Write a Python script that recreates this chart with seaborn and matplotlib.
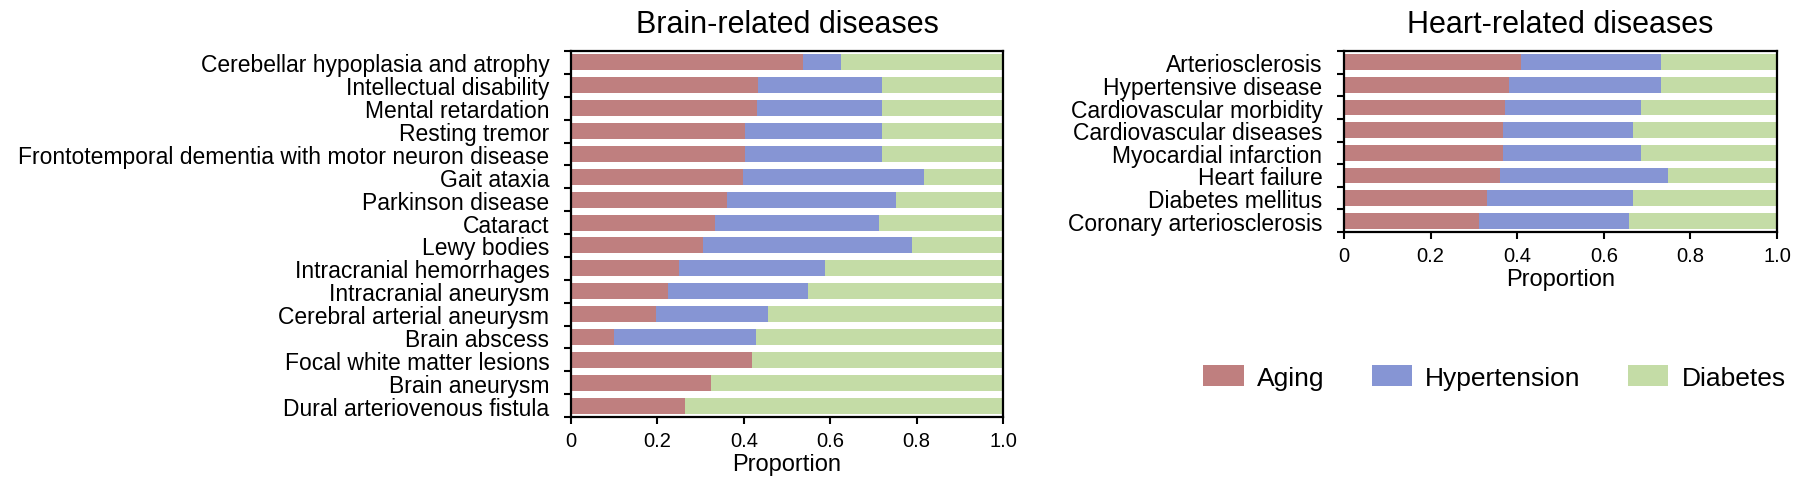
import numpy as np
import pandas as pd
import matplotlib
matplotlib.use("Agg")
import matplotlib.pyplot as plt
from matplotlib.patches import Patch
import seaborn as sns

# ---------------- data ----------------
brain_categories = [
    "Cerebellar hypoplasia and atrophy",
    "Intellectual disability",
    "Mental retardation",
    "Resting tremor",
    "Frontotemporal dementia with motor neuron disease",
    "Gait ataxia",
    "Parkinson disease",
    "Cataract",
    "Lewy bodies",
    "Intracranial hemorrhages",
    "Intracranial aneurysm",
    "Cerebral arterial aneurysm",
    "Brain abscess",
    "Focal white matter lesions",
    "Brain aneurysm",
    "Dural arteriovenous fistula",
]
brain_aging = [0.538, 0.433, 0.430, 0.402, 0.402, 0.398, 0.361, 0.334,
               0.306, 0.251, 0.224, 0.197, 0.100, 0.420, 0.324, 0.265]
brain_hypertension = [0.087, 0.288, 0.291, 0.319, 0.319, 0.418, 0.392, 0.379,
                      0.483, 0.337, 0.324, 0.259, 0.329, 0.0, 0.0, 0.0]
brain_diabetes = [0.375, 0.279, 0.279, 0.279, 0.279, 0.184, 0.247, 0.287,
                  0.211, 0.412, 0.452, 0.544, 0.571, 0.580, 0.676, 0.735]

heart_categories = [
    "Arteriosclerosis",
    "Hypertensive disease",
    "Cardiovascular morbidity",
    "Cardiovascular diseases",
    "Myocardial infarction",
    "Heart failure",
    "Diabetes mellitus",
    "Coronary arteriosclerosis",
]
heart_aging = [0.409, 0.381, 0.371, 0.367, 0.367, 0.361, 0.331, 0.311]
heart_hypertension = [0.322, 0.350, 0.315, 0.300, 0.319, 0.388, 0.336, 0.347]
heart_diabetes = [0.269, 0.269, 0.314, 0.333, 0.314, 0.251, 0.333, 0.342]

series_names = ["Aging", "Hypertension", "Diabetes"]
x_ticks = [0, 0.2, 0.4, 0.6, 0.8, 1.0]
x_ticklabels = ["0", "0.2", "0.4", "0.6", "0.8", "1.0"]
titles = ["Brain-related diseases", "Heart-related diseases"]
x_label = "Proportion"

colors = {"Aging": "#BF7F7F", "Hypertension": "#8695D4", "Diabetes": "#C4DCA6"}

# ---------------- style ----------------
sns.set_theme(style="white")
plt.rcParams["font.family"] = ["Liberation Sans", "DejaVu Sans"]
plt.rcParams["text.color"] = "black"
plt.rcParams["axes.labelcolor"] = "black"
plt.rcParams["xtick.color"] = "black"
plt.rcParams["ytick.color"] = "black"

W, H = 1800, 485
fig = plt.figure(figsize=(W / 100, H / 100), dpi=100)


def px_axes(x0, y0, x1, y1):
    return fig.add_axes([x0 / W, 1 - y1 / H, (x1 - x0) / W, (y1 - y0) / H])


def stacked(ax, cats, aging, hyper, diab, title):
    df = pd.DataFrame({"cat": cats, "Aging": aging,
                       "Hypertension": hyper, "Diabetes": diab})
    df["c1"] = df["Aging"]
    df["c2"] = df["Aging"] + df["Hypertension"]
    df["c3"] = df["c2"] + df["Diabetes"]
    for col, name in [("c3", "Diabetes"), ("c2", "Hypertension"), ("c1", "Aging")]:
        sns.barplot(data=df, x=col, y="cat", orient="h", order=cats,
                    color=colors[name], saturation=1, width=0.7,
                    errorbar=None, linewidth=0, ax=ax)
    n = len(cats)
    ax.set_xlim(0, 1)
    ax.set_ylim(n - 0.5, -0.5)
    ax.set_xticks(x_ticks)
    ax.set_xticklabels(x_ticklabels, fontsize=14.5)
    ax.set_yticks(range(n))
    ax.set_yticklabels(cats, fontsize=16.5)
    ax.set_yticks(np.arange(-0.5, n, 1.0), minor=True)
    ax.tick_params(axis="y", which="major", length=0, pad=15.5)
    ax.tick_params(axis="y", which="minor", left=True, length=5,
                   width=1.5, direction="out")
    ax.tick_params(axis="x", which="major", bottom=True, length=5,
                   width=1.5, direction="out", pad=5)
    ax.set_ylabel("")
    ax.set_xlabel(x_label, fontsize=17, labelpad=2)
    for s in ax.spines.values():
        s.set_visible(True)
        s.set_color("black")
        s.set_linewidth(1.6)
    ax.set_title(title, fontsize=22, pad=14)


ax1 = px_axes(571, 52, 1003, 418)
stacked(ax1, brain_categories, brain_aging, brain_hypertension,
        brain_diabetes, titles[0])

ax2 = px_axes(1344, 52, 1777, 233)
stacked(ax2, heart_categories, heart_aging, heart_hypertension,
        heart_diabetes, titles[1])

handles = [Patch(facecolor=colors[s], edgecolor="none", label=s)
           for s in series_names]
fig.legend(handles=handles, loc="center", bbox_to_anchor=(1494.5 / W, 1 - 378.5 / H),
           ncol=3, frameon=False, fontsize=19, handlelength=1.52,
           handleheight=0.87, handletextpad=0.5, columnspacing=1.8)

fig.savefig("out.png", dpi=100)
